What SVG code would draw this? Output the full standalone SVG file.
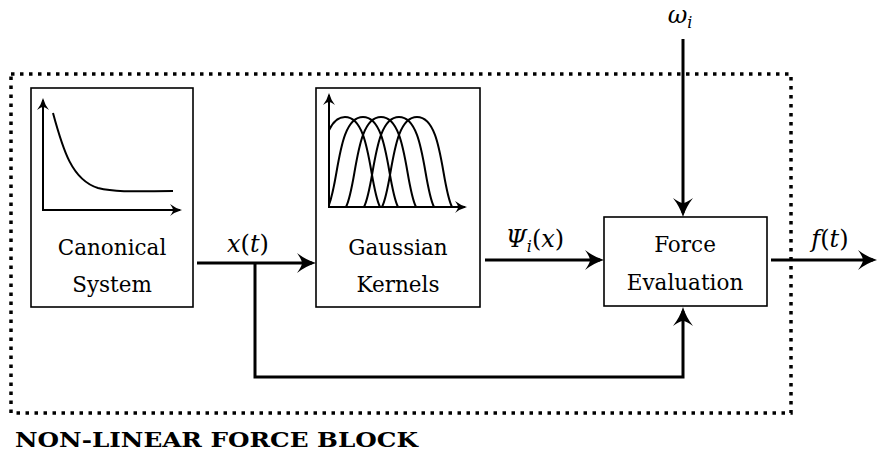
<svg xmlns="http://www.w3.org/2000/svg" width="878" height="457" viewBox="0 0 878 457">
<style>
.box{fill:#fff;stroke:#000;stroke-width:1.6}
.conn{fill:none;stroke:#000;stroke-width:3}
.axis{fill:none;stroke:#000;stroke-width:2}
.curve{fill:none;stroke:#000;stroke-width:2}
.lbl{font-family:"DejaVu Serif",serif;font-size:21.5px;fill:#000;text-anchor:middle}
.math{font-family:"DejaVu Serif",serif;font-size:24px;fill:#000}
.it{font-style:italic}
.title{font-family:"DejaVu Serif",serif;font-size:21px;font-weight:bold;fill:#000}
</style>
<defs>
<marker id="arr" markerUnits="userSpaceOnUse" markerWidth="24" markerHeight="22" viewBox="-20 -11 24 22" refX="-4" refY="0" orient="auto">
<path d="M0,0 Q-10,-3 -19,-10 Q-14,-3 -14,0 Q-14,3 -19,10 Q-10,3 0,0 Z" fill="#000"/>
</marker>
<marker id="arrs" markerUnits="userSpaceOnUse" markerWidth="16" markerHeight="14" viewBox="-14 -7 16 14" refX="-2" refY="0" orient="auto">
<path d="M0,0 Q-7,-2 -12,-6 Q-9,-2 -9,0 Q-9,2 -12,6 Q-7,2 0,0 Z" fill="#000"/>
</marker>
<clipPath id="gclip"><rect x="330" y="90" width="140" height="120"/></clipPath>
</defs>

<rect x="11" y="74" width="780" height="339" fill="none" stroke="#000" stroke-width="3.5" stroke-dasharray="3.5 5.5"/>

<g id="canonical">
<rect class="box" x="31" y="88" width="162" height="219"/>
<line class="axis" x1="43" y1="210" x2="43" y2="100" marker-end="url(#arrs)"/>
<line class="axis" x1="42" y1="210" x2="180" y2="210" marker-end="url(#arrs)"/>
<path class="curve" stroke-width="3" d="M53,113 C63,150 72,180 98,188 C118,193 145,191 173,191"/>
<text class="lbl" x="112" y="255">Canonical</text>
<text class="lbl" x="112" y="292">System</text>
</g>

<g id="gaussian">
<rect class="box" x="316" y="88" width="164" height="219"/>
<line class="axis" x1="329" y1="207" x2="329" y2="95" marker-end="url(#arrs)"/>
<line class="axis" x1="328" y1="207" x2="465" y2="207" marker-end="url(#arrs)"/>
<g clip-path="url(#gclip)">
<path class="curve" d="M310,207 C321,185 319,117 345,117 C371,117 369,185 380,207"/>
<path class="curve" d="M328,207 C339,185 337,117 363,117 C389,117 387,185 398,207"/>
<path class="curve" d="M346,207 C357,185 355,117 381,117 C407,117 405,185 416,207"/>
<path class="curve" d="M364,207 C375,185 373,117 399,117 C425,117 423,185 434,207"/>
<path class="curve" d="M382,207 C393,185 391,117 417,117 C443,117 441,185 452,207"/>
</g>
<text class="lbl" x="398" y="255">Gaussian</text>
<text class="lbl" x="398" y="292">Kernels</text>
</g>

<g id="force">
<rect class="box" x="604" y="217" width="163" height="89"/>
<text class="lbl" x="685" y="252">Force</text>
<text class="lbl" x="685" y="290">Evaluation</text>
</g>

<g id="connectors">
<line class="conn" x1="197" y1="263" x2="312" y2="263" marker-end="url(#arr)"/>
<path class="conn" d="M255,263 V377 H683 V311" marker-end="url(#arr)"/>
<line class="conn" x1="485" y1="260" x2="600" y2="260" marker-end="url(#arr)"/>
<line class="conn" x1="683" y1="39" x2="683" y2="213" marker-end="url(#arr)"/>
<line class="conn" x1="771" y1="260" x2="873" y2="260" marker-end="url(#arr)"/>
</g>

<g id="labels">
<text class="math" x="248" y="252" text-anchor="middle"><tspan class="it">x</tspan>(<tspan class="it">t</tspan>)</text>
<text class="math" x="535" y="247" text-anchor="middle"><tspan class="it">Ψ</tspan><tspan class="it" font-size="16" dy="5">i</tspan><tspan dy="-5">(</tspan><tspan class="it">x</tspan>)</text>
<text class="math" x="830" y="247" text-anchor="middle"><tspan class="it">f</tspan>(<tspan class="it">t</tspan>)</text>
<text class="math" x="680" y="23" text-anchor="middle"><tspan class="it">ω</tspan><tspan class="it" font-size="16" dy="5">i</tspan></text>
</g>

<text class="title" x="15" y="447" textLength="403" lengthAdjust="spacingAndGlyphs">NON-LINEAR FORCE BLOCK</text>
</svg>
